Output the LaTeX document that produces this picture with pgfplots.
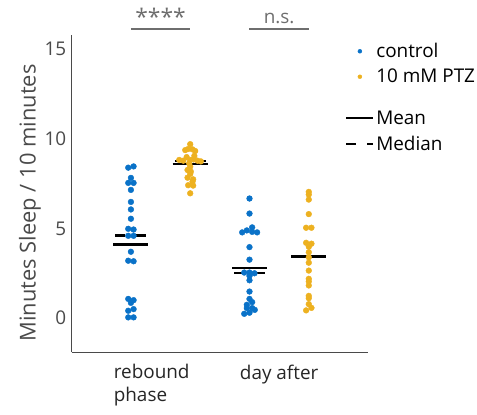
\documentclass[border=0pt]{standalone}
\usepackage{fontspec}
\setmainfont{Open Sans}
\usepackage{pgfplots}
\pgfplotsset{compat=1.18}

\definecolor{ctrl}{HTML}{0A72C8}
\definecolor{ptz}{HTML}{EDB120}
\definecolor{axgray}{HTML}{4A4A4A}
\definecolor{siggray}{HTML}{6E6E6E}

\pgfplotsset{
  dot legend/.style={legend image code/.code={\draw[##1, mark size=2pt] plot coordinates {(13.5pt,0pt)};}},
  bar legend/.style={legend image code/.code={\draw[##1] (0pt,0pt) -- (27pt,0pt);}},
}

% x = group position + small swarm offset
\pgfplotstableread{
x y
0.955 8.39
1.045 8.46
1.000 7.82
0.955 7.54
1.045 7.54
1.000 7.15
1.000 6.48
1.000 6.06
1.000 5.54
0.955 4.98
1.045 4.94
0.955 4.59
1.045 4.59
1.000 3.70
0.955 3.20
1.045 3.17
0.955 1.07
1.045 1.00
1.000 0.85
0.955 0.41
1.045 0.50
0.955 0.04
1.045 0.04
3.000 6.67
3.000 5.83
3.045 5.06
2.955 4.89
3.045 4.81
2.877 4.78
3.129 4.78
3.000 3.96
3.000 3.26
2.911 2.54
3.000 2.54
3.084 2.50
3.000 2.35
3.000 2.11
3.000 1.48
3.000 1.07
3.045 0.89
2.955 0.74
2.955 0.56
3.045 0.56
3.089 0.46
2.911 0.24
3.000 0.30
}\controldata

\pgfplotstableread{
x y
2.000 9.70
1.916 9.37
1.966 9.43
2.039 9.41
2.084 9.32
1.815 8.82
1.883 8.78
2.000 8.82
2.056 8.85
2.123 8.78
2.179 8.74
1.940 8.98
2.070 9.05
1.983 8.63
2.000 8.44
1.955 8.26
2.011 8.17
2.000 8.04
1.955 7.83
2.050 7.74
2.039 7.61
1.966 7.41
2.050 7.39
2.000 6.96
4.000 7.04
4.000 6.89
4.000 6.61
4.000 5.80
3.955 5.04
4.045 5.04
3.955 4.20
4.045 4.15
4.000 3.98
4.000 3.67
4.000 3.39
4.000 3.09
4.000 2.65
4.000 2.19
4.000 2.04
4.000 1.82
4.000 1.24
4.000 1.11
4.000 0.78
4.045 0.57
3.955 0.43
}\ptzdata

\begin{document}
\begin{tikzpicture}
\begin{axis}[
  scale only axis,
  width=298pt, height=319pt,
  xmin=0, xmax=5,
  ymin=-1.9, ymax=15.8,
  axis x line*=bottom,
  axis y line*=left,
  axis line style={axgray, line width=1.2pt, -},
  major tick length=0pt,
  ytick={0,5,10,15},
  xtick={1.35,3.5},
  xticklabels={rebound\\phase, day after},
  xticklabel style={align=left, font=\fontsize{19}{23}\selectfont, text=black!85, yshift=-9pt},
  yticklabel style={font=\fontsize{19}{23}\selectfont, text=axgray, xshift=-2pt},
  /pgf/number format/assume math mode=true,
  ylabel={Minutes Sleep / 10 minutes},
  ylabel style={font=\fontsize{22}{26}\selectfont, text=axgray, at={(rel axis cs:-0.141,0.47)}, anchor=center},
  clip=false,
  legend style={draw=none, fill=none, at={(rel axis cs:0.923,0.98)}, anchor=north west,
    font=\fontsize{19}{23}\selectfont, row sep=6pt, inner sep=0pt},
  legend cell align=left,
]
\addplot[only marks, mark=*, mark size=2.9pt, color=ctrl, dot legend]
  table[x=x, y=y] {\controldata};
\addlegendentry{control}
\addplot[only marks, mark=*, mark size=2.9pt, color=ptz, dot legend]
  table[x=x, y=y] {\ptzdata};
\addlegendentry{10 mM PTZ}

% medians (dashed) and means (solid)
\addplot[black, line width=2.7pt, dash pattern=on 10pt off 11pt, forget plot] coordinates {(0.74,4.61) (1.26,4.61)};
\addplot[black, line width=2.7pt, dash pattern=on 10pt off 11pt, forget plot] coordinates {(1.74,8.76) (2.26,8.76)};
\addplot[black, line width=2.7pt, dash pattern=on 10pt off 11pt, forget plot] coordinates {(2.74,2.52) (3.26,2.52)};
\addplot[black, line width=2.7pt, dash pattern=on 10pt off 11pt, forget plot] coordinates {(3.74,3.43) (4.26,3.43)};
\addplot[black, line width=2.7pt, forget plot] coordinates {(0.705,4.11) (1.295,4.11)};
\addplot[black, line width=2.7pt, forget plot] coordinates {(1.705,8.59) (2.295,8.59)};
\addplot[black, line width=2.7pt, forget plot] coordinates {(2.705,2.80) (3.295,2.80)};
\addplot[black, line width=2.7pt, forget plot] coordinates {(3.705,3.43) (4.295,3.43)};

\addlegendimage{empty legend}
\addlegendentry{\rule{0pt}{5pt}}
\addlegendimage{black, line width=2pt, bar legend}
\addlegendentry{Mean}
\addlegendimage{black, line width=2pt, dash pattern=on 10pt off 11pt, bar legend}
\addlegendentry{Median}

% significance bars
\draw[siggray, line width=2pt] (axis cs:1,16.15) -- (axis cs:2,16.15);
\draw[siggray, line width=2pt] (axis cs:3,16.15) -- (axis cs:4,16.15);
\node[siggray, anchor=base, font=\fontsize{23}{26}\selectfont] at (axis cs:1.5,16.3) {****};
\node[siggray, anchor=base, font=\fontsize{19}{23}\selectfont] at (axis cs:3.5,16.45) {n.s.};

% frame of the whole picture
\path (rel axis cs:-0.2416,-0.1975) rectangle (rel axis cs:1.359,1.1097);
\end{axis}
\end{tikzpicture}
\end{document}
